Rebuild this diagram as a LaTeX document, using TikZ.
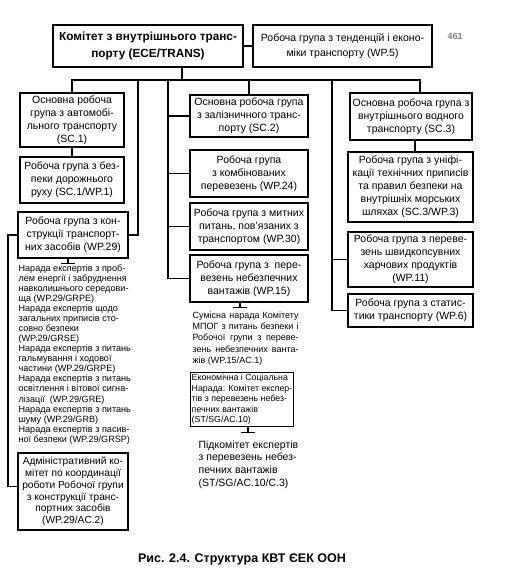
\documentclass[tikz,border=0pt]{standalone}
\usepackage{fontspec}
\setmainfont{Liberation Sans}
\newcommand{\Stub}[1]{\draw (#1) -- ++(0,5) ++(-7,0) -- ++(14,0);}
\newcommand{\Jline}[1]{\makebox[106pt][s]{#1}}

\begin{document}
\begin{tikzpicture}[x=1pt, y=-1pt, line width=1.2pt,
  grp/.style={draw, align=center, inner sep=1pt, font=\fontsize{10.5}{13}\selectfont},
  note/.style={align=left, inner sep=0pt, anchor=north west}]
\useasboundingbox (0,0) rectangle (508,580);

\draw(148,46) node[grp, font=\fontsize{11.8}{17}\selectfont\bfseries, minimum width=190, minimum height=42] (trans) {Комітет з внутрішнього транс-\\порту (ECE/TRANS)};
\draw(342.5,46) node[grp, font=\fontsize{10.5}{15}\selectfont, minimum width=179, minimum height=42] (wpfive) {Робоча група з тенденцій і еконо-\\міки транспорту (WP.5)};
\draw(455,36) node[font=\fontsize{9}{9}\selectfont\bfseries, text=gray] (page) {461};

% left column
\draw(72,120) node[grp, minimum width=104, minimum height=54] (sc1) {Основна робоча\\група з автомобі-\\льного транспорту\\(SC.1)};
\draw(72,180) node[grp, minimum width=104, minimum height=46] (wp1) {Робоча група з без-\\пеки дорожнього\\руху (SC.1/WP.1)};
\draw(73,235) node[grp, minimum width=110, minimum height=46] (wp29) {Робоча група з кон-\\струкції транспорт-\\них засобів (WP.29)};
\draw(18,264) node[note, font=\fontsize{9.1}{10.06}\selectfont] (meet) {Нарада експертів з проб-\\лем енергії і забруднення\\навколишнього середови-\\ща (WP.29/GRPE)\\Нарада експертів щодо\\загальних приписів сто-\\совно безпеки\\(WP.29/GRSE)\\Нарада експертів з питань\\гальмування і ходової\\частини (WP.29/GRPE)\\Нарада експертів з питань\\освітлення і вітової сигна-\\лізації~ (WP.29/GRE)\\Нарада експертів з питань\\шуму (WP.29/GRB)\\Нарада експертів з пасив-\\ної безпеки (WP.29/GRSP)};
\draw(73,491.5) node[grp, font=\fontsize{10.2}{11.7}\selectfont, minimum width=110, minimum height=77] (ac2) {Адміністративний ко-\\мітет по координації\\роботи Робочої групи\\з конструкції транс-\\портних засобів\\(WP.29/AC.2)};

% centre column
\draw(249,116) node[grp, minimum width=118, minimum height=42] (sc2) {Основна робоча група\\з залізничного транс-\\порту (SC.2)};
\draw(249,173.5) node[grp, minimum width=118, minimum height=47] (wp24) {Робоча група\\з комбінованих\\перевезень (WP.24)};
\draw(249,226.5) node[grp, minimum width=118, minimum height=47] (wp30) {Робоча група з митних\\питань, пов'язаних з\\транспортом (WP.30)};
\draw(249,278.5) node[grp, minimum width=118, minimum height=47] (wp15) {Робоча група з ~пере-\\везень небезпечних\\вантажів (WP.15)};
\draw(192,311) node[note, font=\fontsize{9}{11.3}\selectfont] (joint) {\Jline{Сумісна нарада Комітету}\\\Jline{МПОГ з питань безпеки і}\\\Jline{Робочої групи з переве-}\\\Jline{зень небезпечних ванта-}\\жів (WP.15/AC.1)};
\draw(242,399.5) node[draw, align=left, inner sep=1.5pt, minimum width=100, minimum height=54, font=\fontsize{8.8}{10.5}\selectfont] (econ) {Економічна і Соціальна\\Нарада: Комітет експер-\\тів з перевезень небез-\\печних вантажів\\(ST/SG/AC.10)};
\draw(198,440) node[note, font=\fontsize{10.5}{12.7}\selectfont] (sub) {Підкомітет експертів\\з перевезень небез-\\печних вантажів\\(ST/SG/AC.10/C.3)};

% right column
\draw(411,116.5) node[grp, minimum width=122, minimum height=47] (sc3) {Основна робоча група з\\внутрішнього водного\\транспорту (SC.3)};
\draw(410.5,187) node[grp, minimum width=125, minimum height=70] (wp3) {Робоча група з уніфі-\\кації технічних приписів\\та правил безпеки на\\внутрішніх морських\\шляхах (SC.3/WP.3)};
\draw(410.5,259.5) node[grp, minimum width=125, minimum height=55] (wp11) {Робоча група з переве-\\зень швидкопсувних\\харчових продуктів\\(WP.11)};
\draw(410.5,310.5) node[grp, minimum width=125, minimum height=33] (wp6) {Робоча група з статис-\\тики транспорту (WP.6)};

\draw(242,559) node[font=\fontsize{12.5}{14}\selectfont\bfseries] (cap) {Рис. 2.4. Структура КВТ ЄЕК ООН};

% connectors
\coordinate (bus) at (182,80);
\coordinate (busR) at (420,80);
\coordinate (lv) at (138,80);
\coordinate (cv) at (168,80);
\coordinate (rv) at (332,80);
\coordinate (lo) at (8,235);
\draw (trans) -- (wpfive);
\draw (bus |- trans.south) -- (bus);
\draw (sc1.north) |- (busR) -- (busR |- sc3.north);
\draw (sc2.north) -- (sc2.north |- bus);
\draw (sc1) -- (wp1);
\draw ([xshift=4pt]sc3.south) -- ([xshift=4pt]sc3.south |- wp3.north);
\draw (lv) |- (wp29.east);
\draw (wp29.west) -- (lo) |- ([yshift=5pt]ac2.west);
\draw (cv) |- (wp15.west);
\foreach \n in {sc2,wp24,wp30} \draw (\n.west) -- (\n.west -| cv);
\draw (rv) |- (wp6.west);
\draw (wp11.west) -- (wp11.west -| rv);
\Stub{[xshift=-5pt]wp29.south}
\Stub{[xshift=-9pt]wp15.south}
\Stub{[xshift=6pt]econ.south}

\end{tikzpicture}
\end{document}
